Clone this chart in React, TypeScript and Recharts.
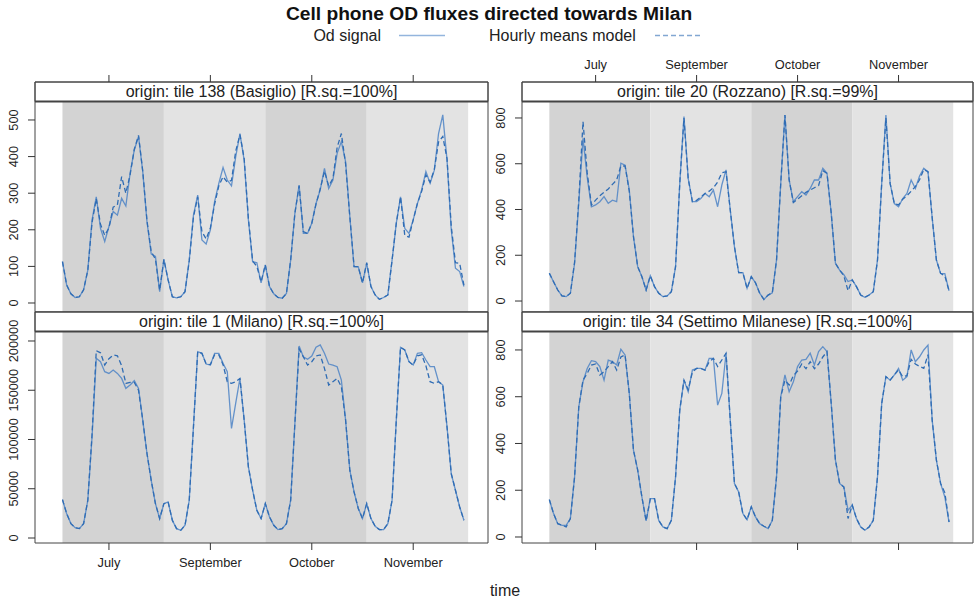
import React from 'react';
import { LineChart, Line, XAxis, YAxis, ReferenceArea, ReferenceLine } from 'recharts';

// hourly values, 4 days x 24 hours per panel
const basiglioObs = [
  113, 49, 25, 15, 17, 36, 90, 227, 290, 204, 168, 209, 250, 240, 286, 265, 354, 418, 455, 359, 222, 134, 127, 31,
  119, 63, 17, 14, 17, 31, 117, 240, 295, 172, 161, 200, 277, 327, 370, 336, 320, 400, 463, 390, 227, 113, 110, 55,
  104, 45, 25, 15, 13, 26, 117, 245, 322, 190, 190, 218, 272, 309, 368, 313, 336, 409, 441, 386, 236, 99, 99, 55,
  108, 45, 22, 10, 15, 22, 117, 218, 290, 204, 190, 227, 272, 309, 359, 327, 363, 463, 514, 391, 200, 95, 86, 45,
];
const basiglioModel = [
  113, 49, 25, 15, 17, 36, 90, 220, 285, 215, 185, 205, 262, 268, 345, 300, 350, 420, 458, 360, 225, 140, 120, 35,
  119, 63, 17, 14, 17, 31, 115, 235, 290, 195, 175, 205, 270, 320, 345, 330, 335, 415, 460, 395, 230, 115, 100, 58,
  104, 45, 25, 15, 13, 26, 117, 245, 320, 195, 190, 218, 270, 312, 360, 320, 340, 425, 463, 380, 236, 100, 99, 55,
  110, 45, 22, 10, 15, 22, 117, 218, 290, 185, 180, 227, 272, 305, 350, 330, 365, 440, 455, 395, 210, 110, 108, 49,
];
const rozzanoObs = [
  121, 84, 48, 22, 19, 34, 165, 430, 711, 540, 412, 420, 434, 456, 427, 441, 434, 602, 594, 485, 281, 150, 106, 48,
  110, 63, 34, 19, 22, 41, 150, 514, 806, 536, 434, 434, 448, 470, 456, 485, 412, 507, 573, 398, 237, 124, 124, 55,
  106, 80, 34, 7, 26, 36, 179, 514, 813, 529, 434, 456, 478, 463, 492, 529, 529, 580, 558, 384, 165, 135, 115, 85,
  92, 63, 26, 16, 26, 41, 179, 514, 813, 514, 426, 412, 448, 470, 529, 492, 546, 580, 565, 364, 179, 121, 120, 45,
];
const rozzanoModel = [
  121, 84, 48, 22, 19, 34, 170, 440, 784, 560, 420, 441, 460, 475, 490, 510, 529, 590, 590, 480, 281, 150, 106, 48,
  110, 63, 34, 19, 22, 41, 150, 514, 800, 536, 434, 440, 455, 470, 480, 495, 520, 560, 565, 398, 237, 124, 124, 55,
  106, 80, 34, 7, 26, 36, 179, 514, 813, 529, 430, 445, 460, 475, 485, 495, 505, 570, 558, 384, 165, 135, 110, 45,
  92, 63, 26, 16, 26, 41, 179, 514, 800, 514, 426, 420, 445, 460, 480, 500, 530, 575, 565, 364, 179, 121, 110, 45,
];
const milanoObs = [
  39000, 24700, 14600, 10500, 9500, 14600, 38300, 102700, 182400, 179000, 168800, 167100, 170500, 167100, 162000, 151900, 155300, 159700, 151900, 119700, 85800, 58600, 34900, 19700,
  34900, 36600, 18000, 9500, 7800, 12900, 38300, 112900, 189200, 187500, 176600, 175600, 187500, 187500, 177300, 168800, 111200, 137000, 162000, 119700, 72200, 48500, 28100, 19700,
  34900, 21400, 12900, 8500, 9500, 14600, 38300, 116300, 194900, 184000, 181400, 184800, 193600, 196000, 187500, 176600, 175600, 173900, 160300, 119700, 68800, 46800, 30000, 19700,
  34900, 19700, 11900, 8500, 8500, 14600, 38300, 119700, 193600, 190900, 179000, 175600, 187500, 188100, 180700, 173900, 173900, 158700, 155300, 112900, 65400, 48500, 31500, 18000,
];
const milanoModel = [
  39000, 24700, 14600, 10500, 9500, 14600, 38300, 105000, 190200, 188000, 175600, 182000, 185800, 185000, 175000, 157000, 158000, 158000, 150000, 119700, 85800, 58600, 34900, 19700,
  34900, 36600, 18000, 9500, 7800, 12900, 38300, 112900, 189200, 187500, 176600, 176000, 186000, 186000, 176000, 158700, 157000, 158700, 162000, 119700, 72200, 48500, 28100, 19700,
  34900, 21400, 12900, 8500, 9500, 14600, 38300, 116300, 192000, 184000, 175600, 179000, 184800, 185800, 172200, 155300, 158700, 162000, 153600, 119700, 68800, 46800, 30000, 19700,
  34900, 19700, 11900, 8500, 8500, 14600, 38300, 119700, 193600, 190900, 179000, 175600, 185000, 186000, 175000, 158700, 157000, 158700, 155300, 112900, 65400, 48500, 31500, 18000,
];
const settimoObs = [
  160, 100, 57, 50, 50, 79, 257, 557, 664, 721, 754, 750, 729, 671, 757, 750, 736, 803, 779, 614, 371, 286, 171, 69,
  164, 164, 71, 43, 36, 71, 257, 543, 671, 621, 714, 721, 721, 714, 764, 764, 564, 614, 786, 500, 229, 193, 100, 74,
  129, 86, 57, 46, 36, 71, 257, 600, 693, 621, 664, 729, 757, 760, 786, 736, 793, 814, 793, 571, 329, 229, 214, 114,
  136, 79, 43, 29, 43, 71, 257, 571, 686, 671, 693, 721, 671, 686, 800, 750, 771, 800, 821, 500, 329, 229, 171, 64,
];
const settimoModel = [
  160, 100, 57, 50, 43, 79, 257, 557, 671, 700, 735, 740, 693, 707, 729, 750, 714, 770, 779, 614, 371, 286, 171, 69,
  164, 164, 71, 43, 36, 71, 257, 543, 671, 630, 705, 721, 721, 714, 750, 764, 729, 757, 786, 500, 229, 193, 100, 74,
  129, 86, 57, 46, 36, 71, 257, 600, 670, 650, 690, 710, 740, 720, 750, 720, 740, 770, 793, 571, 329, 229, 214, 79,
  136, 79, 43, 29, 43, 71, 257, 571, 686, 671, 693, 715, 685, 690, 760, 740, 730, 721, 780, 500, 329, 229, 190, 64,
];

const dayStarts = [0, 24, 48, 72];
const monthTicks = [11, 35, 59, 83];
const monthLabels = ['July', 'September', 'October', 'November'];

const FONT = '"Liberation Sans", Arial, Helvetica, sans-serif';
const OBS_COLOR = '#4d84c6';
const MODEL_COLOR = '#2f6cb4';
const BAND_FILLS = ['#d3d3d3', '#e3e3e3'];
const X_DOMAIN: [number, number] = [-6.5, 100.7];
const STRIP_H = 19.5;
const AXIS_L = 40;
const AXIS_T = 45;
const AXIS_B = 40;
const PAD_R = 5;

interface PanelProps {
  x: number;
  y: number;
  w: number;
  h: number;
  strip: string;
  obs: number[];
  model: number[];
  yRange: [number, number];
  yTicks: number[];
  topTicks?: boolean;
  topLabels?: boolean;
  bottomTicks?: boolean;
  bottomLabels?: boolean;
}

const YTick = (props: any) => {
  const { x, y, payload } = props;
  return (
    <text x={x} y={y} transform={`rotate(-90, ${x}, ${y})`} textAnchor="middle" fontSize={12.8} fill="#222" fontFamily={FONT}>
      {payload.value}
    </text>
  );
};

const makeXTick = (show: boolean, top: boolean) => (props: any) => {
  const { x, y, payload } = props;
  if (!show) return <g />;
  const idx = monthTicks.indexOf(payload.value);
  return (
    <text x={x} y={y} dy={top ? 0 : '0.71em'} textAnchor="middle" fontSize={12.8} fill="#222" fontFamily={FONT}>
      {monthLabels[idx]}
    </text>
  );
};

const Panel: React.FC<PanelProps> = ({ x, y, w, h, strip, obs, model, yRange, yTicks, topTicks, topLabels, bottomTicks, bottomLabels }) => {
  const rows = obs.map((v, i) => ({ t: i, obs: v, model: model[i] }));
  const [lo, hi] = yRange;
  // extend the domain so the strip sits on top of the panel
  const yTop = hi + ((hi - lo) * STRIP_H) / (h - STRIP_H);

  return (
    <div style={{ position: 'absolute', left: x - AXIS_L, top: y - AXIS_T }}>
      <LineChart width={w + AXIS_L + PAD_R} height={h + AXIS_T + AXIS_B} data={rows} margin={{ top: 0, right: PAD_R, bottom: 0, left: 5 }}>
        <XAxis
          xAxisId="top"
          orientation="top"
          type="number"
          dataKey="t"
          domain={X_DOMAIN}
          allowDataOverflow
          ticks={monthTicks}
          height={AXIS_T}
          axisLine={false}
          tickLine={topTicks ? { stroke: '#333' } : false}
          tickSize={7}
          tickMargin={6}
          tick={makeXTick(!!topLabels, true)}
          interval={0}
        />
        <XAxis
          xAxisId="bottom"
          orientation="bottom"
          type="number"
          dataKey="t"
          domain={X_DOMAIN}
          allowDataOverflow
          ticks={monthTicks}
          height={AXIS_B}
          axisLine={false}
          tickLine={bottomTicks ? { stroke: '#333' } : false}
          tickSize={7}
          tickMargin={8}
          tick={makeXTick(!!bottomLabels, false)}
          interval={0}
        />
        <YAxis
          type="number"
          domain={[lo, yTop]}
          allowDataOverflow
          ticks={yTicks}
          width={35}
          axisLine={false}
          tickLine={{ stroke: '#333' }}
          tickSize={7}
          tickMargin={10}
          tick={<YTick />}
          interval={0}
        />
        {dayStarts.map((d, i) => (
          <ReferenceArea
            key={d}
            xAxisId="bottom"
            x1={d}
            x2={d + 24}
            y1={lo}
            y2={hi}
            fill={BAND_FILLS[i % 2]}
            fillOpacity={1}
            stroke="none"
            ifOverflow="visible"
          />
        ))}
        <Line xAxisId="bottom" type="linear" dataKey="obs" stroke={OBS_COLOR} strokeWidth={1.3} strokeOpacity={0.85} dot={false} isAnimationActive={false} />
        <Line xAxisId="bottom" type="linear" dataKey="model" stroke={MODEL_COLOR} strokeWidth={1.3} strokeDasharray="5 3" dot={false} isAnimationActive={false} />
        <ReferenceArea
          xAxisId="bottom"
          x1={X_DOMAIN[0]}
          x2={X_DOMAIN[1]}
          y1={hi}
          y2={yTop}
          fill="#ffffff"
          fillOpacity={1}
          stroke="#444"
          ifOverflow="visible"
          label={{ value: strip, position: 'center', fill: '#222', fontSize: 16, fontFamily: FONT }}
        />
        <ReferenceArea
          xAxisId="bottom"
          x1={X_DOMAIN[0]}
          x2={X_DOMAIN[1]}
          y1={lo}
          y2={yTop}
          fill="none"
          stroke="#444"
          ifOverflow="visible"
        />
        <ReferenceLine xAxisId="bottom" y={hi} stroke="#444" strokeWidth={2} ifOverflow="visible" />
      </LineChart>
    </div>
  );
};

const App: React.FC = () => {
  return (
    <div style={{ position: 'absolute', left: 0, top: 0, width: 974, height: 601, background: '#fff', fontFamily: FONT }}>
      <svg width={974} height={601} style={{ position: 'absolute', left: 0, top: 0 }}>
        <text x={489} y={20} textAnchor="middle" fontSize={19.2} fontWeight="bold" fill="#111" fontFamily={FONT}>
          Cell phone OD fluxes directed towards Milan
        </text>
        <text x={381} y={41} textAnchor="end" fontSize={16} fill="#222" fontFamily={FONT}>Od signal</text>
        <line x1={399} x2={445} y1={35.5} y2={35.5} stroke={OBS_COLOR} strokeWidth={1.3} strokeOpacity={0.6} />
        <text x={489} y={41} textAnchor="start" fontSize={16} fill="#222" fontFamily={FONT}>Hourly means model</text>
        <line x1={655} x2={700} y1={35.5} y2={35.5} stroke={MODEL_COLOR} strokeWidth={1.3} strokeOpacity={0.6} strokeDasharray="5 3" />
        <text x={505} y={596} textAnchor="middle" fontSize={16} fill="#222" fontFamily={FONT}>time</text>
      </svg>
      <Panel x={35} y={82} w={453} h={230} strip="origin: tile 138 (Basiglio) [R.sq.=100%]" obs={basiglioObs} model={basiglioModel}
        yRange={[-24.6, 550.5]} yTicks={[0, 100, 200, 300, 400, 500]} topTicks />
      <Panel x={522} y={82} w={451} h={230} strip="origin: tile 20 (Rozzano) [R.sq.=99%]" obs={rozzanoObs} model={rozzanoModel}
        yRange={[-48, 872]} yTicks={[0, 200, 400, 600, 800]} topTicks topLabels />
      <Panel x={35} y={312} w={453} h={231} strip="origin: tile 1 (Milano) [R.sq.=100%]" obs={milanoObs} model={milanoModel}
        yRange={[-5076, 209640]} yTicks={[0, 50000, 100000, 150000, 200000]} bottomTicks bottomLabels />
      <Panel x={522} y={312} w={451} h={231} strip="origin: tile 34 (Settimo Milanese) [R.sq.=100%]" obs={settimoObs} model={settimoModel}
        yRange={[-25.7, 879]} yTicks={[0, 200, 400, 600, 800]} bottomTicks />
    </div>
  );
};

export default App;
